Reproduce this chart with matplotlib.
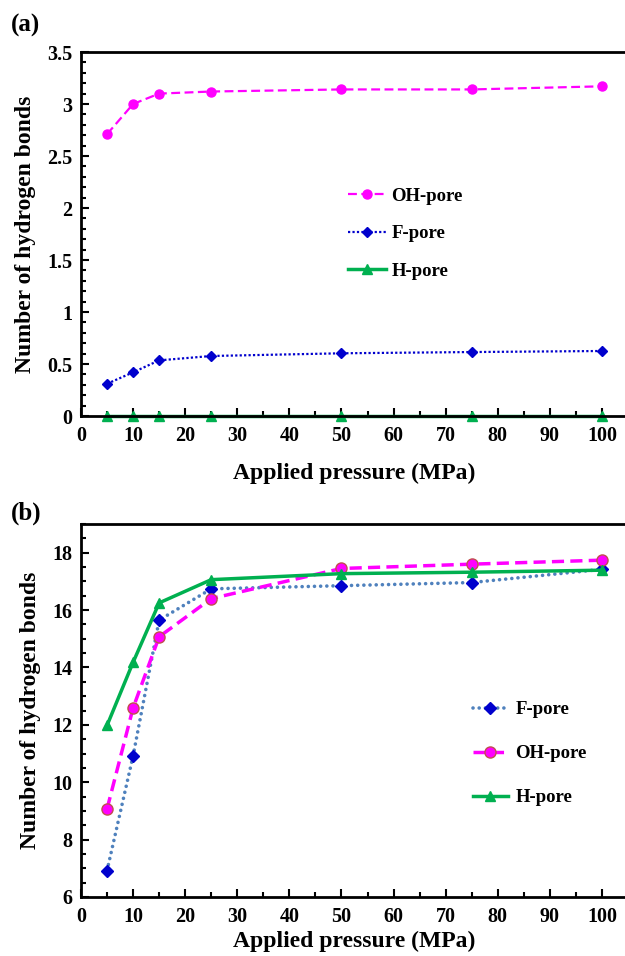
import matplotlib
matplotlib.use("Agg")
import matplotlib.pyplot as plt
from matplotlib.ticker import MultipleLocator

plt.rcParams['font.family'] = ['Liberation Serif', 'DejaVu Serif']
plt.rcParams['font.weight'] = 'bold'

pressure = [5, 10, 15, 25, 50, 75, 100]

# Panel (a)
a_oh = [2.71, 3.00, 3.10, 3.12, 3.14, 3.14, 3.17]
a_f = [0.31, 0.42, 0.535, 0.577, 0.603, 0.615, 0.625]
a_h = [0, 0, 0, 0, 0, 0, 0]

# Panel (b)
b_f = [6.92, 10.92, 15.65, 16.74, 16.85, 16.96, 17.42]
b_oh = [9.07, 12.59, 15.07, 16.40, 17.45, 17.60, 17.74]
b_h = [11.98, 14.18, 16.25, 17.06, 17.27, 17.32, 17.39]

x_label = "Applied pressure (MPa)"
y_label = "Number of hydrogen bonds"

W, H = 625, 956
fig = plt.figure(figsize=(W / 100, H / 100), dpi=100)

def px_axes(left, top, right, bottom):
    return fig.add_axes([left / W, 1 - bottom / H, (right - left) / W, (bottom - top) / H])

ax1 = px_axes(81, 52, 628, 416)
ax2 = px_axes(81, 524, 628, 897)

magenta = '#FF00FF'
blue = '#0000CD'
green = '#00B050'
steel = '#4F81BD'

# Panel a
ax1.plot(pressure, a_oh, linestyle=(0, (4, 2)), color=magenta, lw=1.6, marker='o',
         markersize=6.5, markerfacecolor=magenta, markeredgecolor=magenta, label='OH-pore')
ax1.plot(pressure, a_f, linestyle=(0, (1, 1)), color=blue, lw=1.6, marker='D',
         markersize=5, markerfacecolor=blue, markeredgecolor=blue, label='F-pore')
ax1.plot(pressure, a_h, linestyle='-', color=green, lw=2.5, marker='^',
         markersize=6.5, markerfacecolor=green, markeredgecolor=green, label='H-pore', clip_on=False)
ax1.set_xlim(0, 105)
ax1.set_ylim(0, 3.5)
ax1.yaxis.set_minor_locator(MultipleLocator(0.1))
ax1.set_yticks([0, 0.5, 1, 1.5, 2, 2.5, 3, 3.5])
ax1.set_yticklabels(['0', '0.5', '1', '1.5', '2', '2.5', '3', '3.5'])
leg1 = ax1.legend(loc='upper left', bbox_to_anchor=(0.475, 0.648), frameon=False,
                  fontsize=13.5, handlelength=2.0, handletextpad=0.3, labelspacing=1.08,
                  borderaxespad=0)

# Panel b
ax2.plot(pressure, b_f, linestyle=(0, (0.01, 1.7)), color=steel, lw=2.6, marker='D',
         markersize=6.5, markerfacecolor=blue, markeredgecolor=blue, label='F-pore',
         dash_capstyle='round')
ax2.plot(pressure, b_oh, linestyle=(0, (3.5, 1.8)), color=magenta, lw=2.5, marker='o',
         markersize=8, markerfacecolor=magenta, markeredgecolor='#C0504D', markeredgewidth=1,
         label='OH-pore')
ax2.plot(pressure, b_h, linestyle='-', color=green, lw=2.5, marker='^',
         markersize=7.5, markerfacecolor=green, markeredgecolor=green, label='H-pore')
ax2.set_xlim(0, 105)
ax2.set_ylim(6, 19)
ax2.yaxis.set_major_locator(MultipleLocator(2))
ax2.yaxis.set_minor_locator(MultipleLocator(0.5))
leg2 = ax2.legend(loc='upper left', bbox_to_anchor=(0.703, 0.545), frameon=False,
                  fontsize=13.5, handlelength=1.85, handletextpad=0.4, labelspacing=1.43,
                  borderaxespad=0)

for ax in (ax1, ax2):
    ax.set_xticks(range(0, 101, 10))
    ax.xaxis.set_minor_locator(MultipleLocator(5))
    ax.tick_params(which='both', direction='in', width=1.5, labelsize=14.5, top=False, right=False)
    ax.tick_params(which='major', length=6)
    ax.tick_params(which='minor', length=3.5)
    ax.tick_params(axis='x', pad=7)
    ax.tick_params(axis='y', pad=6)
    for s in ('left', 'bottom', 'top'):
        ax.spines[s].set_linewidth(2)
    ax.spines['right'].set_visible(False)
    for lab in ax.get_xticklabels() + ax.get_yticklabels():
        lab.set_fontweight('bold')
    ax.set_ylabel(y_label, fontsize=17, fontweight='bold', labelpad=8)

ax1.set_xlabel(x_label, fontsize=17, fontweight='bold', labelpad=12)
ax2.set_xlabel(x_label, fontsize=17, fontweight='bold', labelpad=3)

for leg in (leg1, leg2):
    for t in leg.get_texts():
        t.set_fontweight('bold')

fig.text(11 / W, 1 - 25 / H, '(a)', fontsize=18, fontweight='bold', va='center', ha='left')
fig.text(11 / W, 1 - 513 / H, '(b)', fontsize=18, fontweight='bold', va='center', ha='left')

fig.savefig('out.png', dpi=100)
